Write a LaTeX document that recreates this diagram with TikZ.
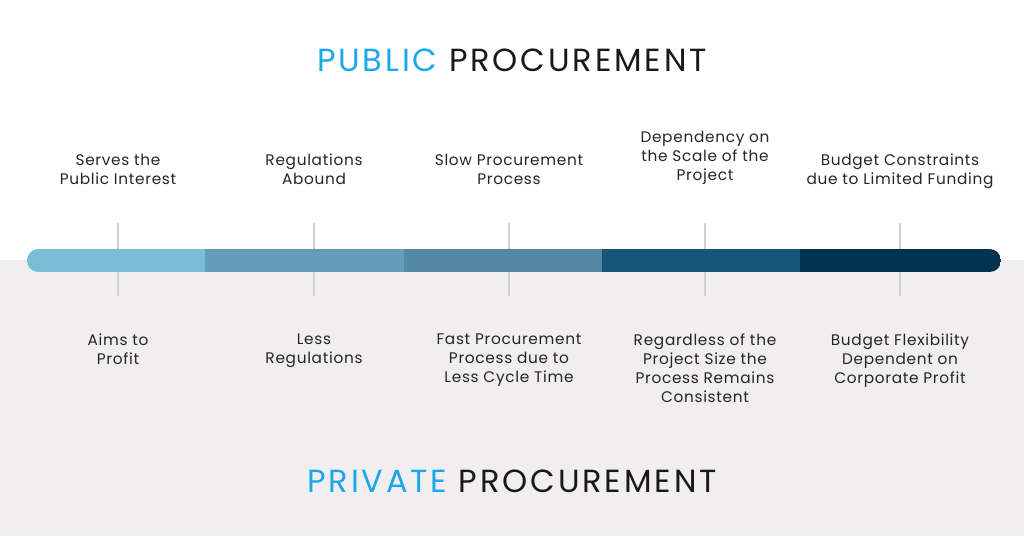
\documentclass[tikz,border=0pt]{standalone}
\usepackage{fontspec}
\setmainfont{Poppins}
\newfontfamily\ttlfont[LetterSpace=9]{Poppins}
\newfontfamily\lblfont[LetterSpace=4.5]{Poppins}
\definecolor{bgrey}{HTML}{F0EEEF}
\definecolor{tickgrey}{HTML}{CFCFCF}
\definecolor{titleblue}{HTML}{1AA7EC}
\definecolor{segA}{HTML}{7BBCD6}
\definecolor{segB}{HTML}{649DB9}
\definecolor{segC}{HTML}{5588A5}
\definecolor{segD}{HTML}{145676}
\definecolor{segE}{HTML}{02334F}
\tikzset{
	lbl/.style={align=center, font=\lblfont\fontsize{11.5}{14.3}\selectfont, text=black!85},
	ttl/.style={font=\ttlfont\fontsize{24}{28}\selectfont, text=black!90},
}
\begin{document}
\begin{tikzpicture}[x=0.75pt,y=-0.75pt]
	\useasboundingbox (0,0) rectangle (1024,536);
	\fill[white] (0,0) rectangle (1024,260);
	\fill[bgrey] (0,260) rectangle (1024,536);
	% ticks
	\foreach \x [count=\i] in {118,314,509,705,900}
		\draw[tickgrey, line width=0.9pt] (\x,223) coordinate (t\i) -- (\x,296) coordinate (b\i);
	% bar
	\begin{scope}
		\clip[rounded corners=8.5pt] (27,249) rectangle (1001,272);
		\fill[segA] (27,249) rectangle (205,272);
		\fill[segB] (205,249) rectangle (404,272);
		\fill[segC] (404,249) rectangle (602,272);
		\fill[segD] (602,249) rectangle (800,272);
		\fill[segE] (800,249) rectangle (1001,272);
	\end{scope}
	% titles
	\node[ttl] (pub) at (512,60) {\textcolor{titleblue}{PUBLIC} PROCUREMENT};
	\node[ttl] (priv) at (512,481) {\textcolor{titleblue}{PRIVATE} PROCUREMENT};
	% upper labels
	\node[lbl, anchor=south] (u1) at (118,189) {Serves the\\Public Interest};
	\node[lbl, anchor=south] (u2) at (314,189) {Regulations\\Abound};
	\node[lbl, anchor=south] (u3) at (509,189) {Slow Procurement\\Process};
	\node[lbl, anchor=south] (u4) at (705,189) {Dependency on\\the Scale of the\\Project};
	\node[lbl, anchor=south] (u5) at (900,193) {Budget Constraints\\due to Limited Funding};
	% lower labels
	\node[lbl, anchor=north] (l1) at (118,329) {Aims to\\Profit};
	\node[lbl, anchor=north] (l2) at (314,329) {Less\\Regulations};
	\node[lbl, anchor=north] (l3) at (509,329) {Fast Procurement\\Process due to\\Less Cycle Time};
	\node[lbl, anchor=north] (l4) at (705,329) {Regardless of the\\Project Size the\\Process Remains\\Consistent};
	\node[lbl, anchor=north] (l5) at (900,329) {Budget Flexibility\\Dependent on\\Corporate Profit};
\end{tikzpicture}
\end{document}
